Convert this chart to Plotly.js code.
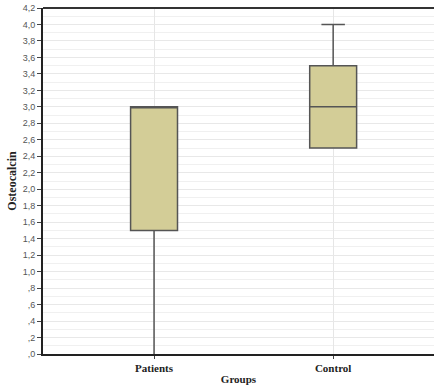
<!DOCTYPE html>
<html>
<head>
<meta charset="utf-8">
<script src="https://cdn.plot.ly/plotly-3.0.1.min.js"></script>
<style>html,body{margin:0;padding:0;background:#fff;}#chart{width:434px;height:388px;}</style>
</head>
<body>
<div id="chart"></div>
<script>
const groups = ["Patients", "Control"];
const lowerFence = [0.0, 2.5];
const q1 = [1.5, 2.5];
const medians = [3.0, 3.0];
const q3 = [3.0, 3.5];
const upperFence = [3.0, 4.0];
const yTickVals = [0,0.2,0.4,0.6,0.8,1.0,1.2,1.4,1.6,1.8,2.0,2.2,2.4,2.6,2.8,3.0,3.2,3.4,3.6,3.8,4.0,4.2];
const yTickText = [",0",",2",",4",",6",",8","1,0","1,2","1,4","1,6","1,8","2,0","2,2","2,4","2,6","2,8","3,0","3,2","3,4","3,6","3,8","4,0","4,2"];

function boxFor(i, ww) {
  return {
    type: "box",
    x: [groups[i]],
    q1: [q1[i]],
    median: [medians[i]],
    q3: [q3[i]],
    lowerfence: [lowerFence[i]],
    upperfence: [upperFence[i]],
    fillcolor: "#d3cd97",
    line: {color: "#555555", width: 1.5},
    whiskerwidth: ww,
    width: 0.262,
    boxpoints: false,
    hoverinfo: "skip"
  };
}

const traces = [boxFor(0, 0), boxFor(1, 0.5)];

const layout = {
  width: 434, height: 388,
  margin: {l: 43, r: 0, t: 8, b: 34},
  paper_bgcolor: "#fff",
  plot_bgcolor: "#fff",
  showlegend: false,
  boxmode: "overlay",
  xaxis: {
    type: "category",
    categoryorder: "array", categoryarray: groups,
    range: [-0.62, 1.563],
    showline: true, linecolor: "#222", linewidth: 2,
    mirror: false,
    showgrid: true, gridcolor: "#e6e6e6", gridwidth: 1,
    ticks: "outside", ticklen: 3, tickcolor: "#444",
    tickfont: {family: "Liberation Serif, Times New Roman, serif", size: 11, color: "#222", weight: "bold"},
    title: {text: "<b>Groups</b>", font: {family: "Liberation Serif, Times New Roman, serif", size: 11, color: "#222"}, standoff: 2},
    zeroline: false
  },
  yaxis: {
    range: [0, 4.2],
    tickvals: yTickVals, ticktext: yTickText,
    showline: true, linecolor: "#222", linewidth: 2,
    ticks: "outside", ticklen: 4, tickcolor: "#444",
    tickfont: {family: "Liberation Sans, Arial, sans-serif", size: 9, color: "#555"},
    showgrid: true, gridcolor: "#e8e8e8", gridwidth: 1,
    minor: {dtick: 0.1, showgrid: true, gridcolor: "#f0f0f0", gridwidth: 1, ticks: ""},
    title: {text: "<b>Osteocalcin</b>", font: {family: "Liberation Serif, Times New Roman, serif", size: 12, color: "#222"}, standoff: 3},
    zeroline: false
  },
  shapes: [
    {type: "line", xref: "paper", yref: "paper", x0: 0, x1: 1, y0: 1, y1: 1, line: {color: "#333", width: 2}}
  ]
};

Plotly.newPlot("chart", traces, layout, {displayModeBar: false, staticPlot: true});
</script>
</body>
</html>
